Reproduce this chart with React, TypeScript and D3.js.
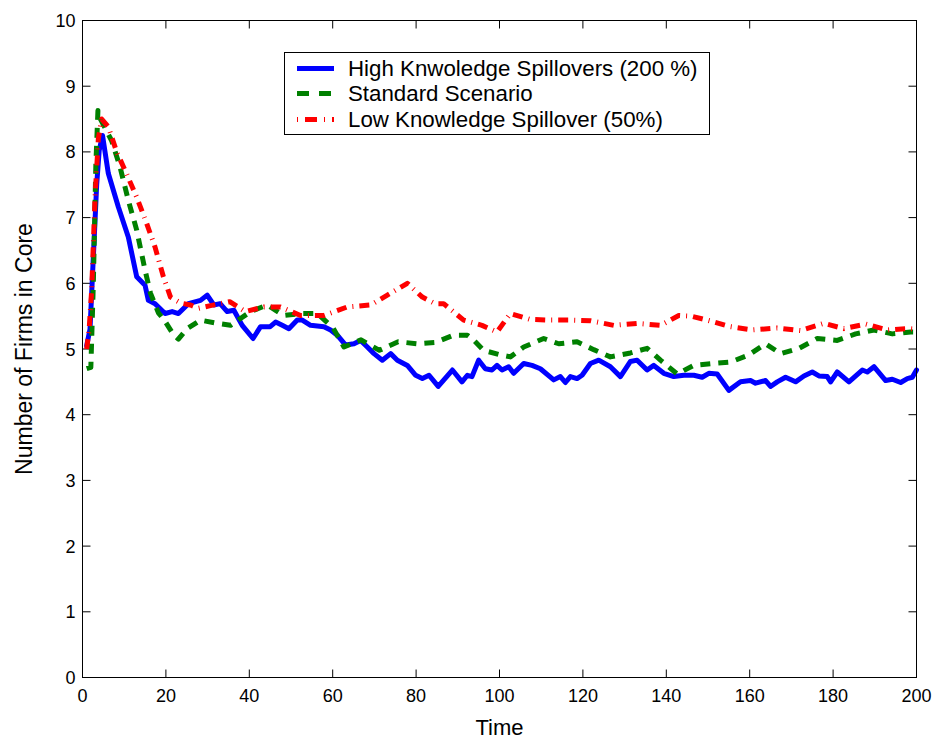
import React from "react";
import * as d3 from "d3";

const X_TICKS = [0, 20, 40, 60, 80, 100, 120, 140, 160, 180, 200];
const Y_TICKS = [0, 1, 2, 3, 4, 5, 6, 7, 8, 9, 10];

const SERIES_NAMES = [
  "High Knwoledge Spillovers (200 %)",
  "Standard Scenario",
  "Low Knowledge Spillover (50%)",
];

const T_HIGH = [1, 1.8, 2.6, 3.4, 4.0, 4.8, 6.2, 8.6, 11, 13, 15, 15.8, 17.4, 19.8, 21.5, 23, 25.4, 28.3, 29.9, 31.5, 33, 34.7, 36.3, 38.3, 40.9, 42.7, 45, 46.3, 47.9, 49.5, 51.5, 52.7, 54.7, 57.9, 59.5, 61.1, 63.1, 65.1, 66.7, 68.3, 69.9, 71.9, 73.9, 75.5, 77.9, 79.9, 81.5, 83.1, 85.3, 88.7, 91, 92.3, 93.4, 95, 96.6, 98.2, 99.4, 100.6, 102.2, 103.4, 105.8, 107.8, 109.8, 113, 114.6, 115.8, 117, 118.6, 119.8, 121.8, 123.8, 126.6, 129, 131.4, 133, 135.4, 137, 139.4, 141.8, 144.2, 146.6, 148.6, 150.2, 152.2, 155, 157.8, 160.2, 161.4, 163.8, 165, 166.6, 168.6, 171, 173, 175, 176.6, 178.6, 179.4, 181, 183.8, 187, 188.2, 189.8, 192.6, 194.2, 196.2, 197.8, 199, 200];
const V_HIGH = [5.05, 5.3, 6.4, 7.5, 8.02, 8.25, 7.67, 7.16, 6.7, 6.1, 5.97, 5.74, 5.69, 5.54, 5.57, 5.54, 5.69, 5.74, 5.82, 5.67, 5.69, 5.57, 5.59, 5.36, 5.16, 5.34, 5.34, 5.41, 5.36, 5.31, 5.44, 5.44, 5.36, 5.34, 5.29, 5.21, 5.06, 5.08, 5.13, 5.03, 4.93, 4.83, 4.93, 4.83, 4.75, 4.6, 4.55, 4.6, 4.43, 4.68, 4.5, 4.6, 4.58, 4.83, 4.7, 4.68, 4.75, 4.68, 4.73, 4.63, 4.78, 4.75, 4.7, 4.53, 4.58, 4.49, 4.58, 4.55, 4.6, 4.78, 4.83, 4.73, 4.58, 4.81, 4.83, 4.68, 4.75, 4.63, 4.58, 4.6, 4.6, 4.57, 4.63, 4.62, 4.37, 4.5, 4.52, 4.48, 4.52, 4.43, 4.5, 4.57, 4.5, 4.59, 4.65, 4.59, 4.58, 4.5, 4.65, 4.5, 4.68, 4.65, 4.73, 4.52, 4.54, 4.49, 4.55, 4.57, 4.68];

const T_STD = [1, 2, 2.6, 3.2, 3.7, 4.3, 7.0, 9.0, 11, 13, 15, 16.3, 18.2, 19.5, 21.9, 23, 25.1, 28.3, 32.3, 35.5, 40.3, 44.3, 48.3, 52.3, 56.3, 60.1, 62.7, 66.8, 71.2, 75.7, 80.3, 84.6, 89, 92.3, 93.9, 96.2, 100.2, 102.6, 105.8, 110.6, 114.2, 118.6, 122.6, 126.6, 131.4, 135.4, 138.6, 142.6, 146.6, 151.4, 155.4, 159.8, 163.8, 167.4, 171.8, 176.2, 181, 185.4, 189.8, 194.2, 198.6, 200];
const V_STD = [4.7, 4.72, 6.0, 7.8, 8.63, 8.5, 8.17, 7.77, 7.26, 6.81, 6.2, 5.85, 5.55, 5.45, 5.21, 5.15, 5.31, 5.44, 5.39, 5.36, 5.57, 5.67, 5.51, 5.54, 5.54, 5.32, 5.03, 5.14, 4.98, 5.11, 5.08, 5.1, 5.21, 5.21, 5.13, 4.98, 4.91, 4.88, 5.03, 5.16, 5.08, 5.11, 4.99, 4.88, 4.94, 5.01, 4.83, 4.62, 4.75, 4.78, 4.8, 4.91, 5.08, 4.93, 5.01, 5.16, 5.13, 5.23, 5.29, 5.23, 5.26, 5.26];

const T_LOW = [1, 1.6, 2.2, 3, 3.8, 4.6, 6.2, 8.2, 10.2, 13, 15.4, 17.4, 19.4, 21.1, 23.5, 25.9, 27.8, 30.7, 35.3, 39.1, 43.5, 47.5, 52.3, 57.9, 63.5, 69.1, 73.1, 77.9, 81.5, 84.6, 86.6, 91.4, 95.8, 99.4, 102.6, 107.4, 111.8, 117, 121.8, 127.4, 133, 138.6, 143, 146, 149.8, 155.4, 160.6, 166.6, 172.2, 177.8, 182.6, 187.8, 193, 198.2, 200];
const V_LOW = [5.0, 5.3, 5.9, 7.3, 8.2, 8.5, 8.38, 8.0, 7.72, 7.31, 6.91, 6.55, 6.1, 5.79, 5.7, 5.67, 5.62, 5.66, 5.72, 5.57, 5.64, 5.64, 5.51, 5.51, 5.64, 5.67, 5.82, 6.0, 5.79, 5.69, 5.69, 5.44, 5.36, 5.26, 5.54, 5.45, 5.44, 5.44, 5.43, 5.36, 5.39, 5.36, 5.51, 5.5, 5.44, 5.34, 5.29, 5.32, 5.28, 5.39, 5.31, 5.38, 5.29, 5.31, 5.3];

const FONT = "'Liberation Sans', Arial, Helvetica, sans-serif";

export default function App() {
  const W = 932;
  const H = 740;
  const x = d3.scaleLinear().domain([0, 200]).range([82.5, 916.5]);
  const y = d3.scaleLinear().domain([0, 10]).range([677.5, 20.5]);
  const line = d3
    .line<[number, number]>()
    .x((d) => x(d[0]))
    .y((d) => y(d[1]));
  const zip = (t: number[], v: number[]) => t.map((ti, i) => [ti, v[i]] as [number, number]);

  const series = [
    { name: SERIES_NAMES[0], data: zip(T_HIGH, V_HIGH), color: "#0000ff", dash: undefined, legendDash: undefined },
    { name: SERIES_NAMES[1], data: zip(T_STD, V_STD), color: "#008000", dash: "10 8", legendDash: "12 10" },
    { name: SERIES_NAMES[2], data: zip(T_LOW, V_LOW), color: "#ff0000", dash: "10 6 1 6", legendDash: "1 7 12 7" },
  ];

  const left = x(0), right = x(200), top = y(10), bottom = y(0);
  const tickLen = 8;

  return (
    <svg width={W} height={H} style={{ position: "absolute", left: 0, top: 0, background: "#fff" }}>
      <rect x={0} y={0} width={W} height={H} fill="#fff" />
      {X_TICKS.map((t) => (
        <g key={"xt" + t}>
          <line x1={x(t)} x2={x(t)} y1={bottom} y2={bottom - tickLen} stroke="#000" strokeWidth={1} />
          <line x1={x(t)} x2={x(t)} y1={top} y2={top + tickLen} stroke="#000" strokeWidth={1} />
          <text x={x(t)} y={701.5} textAnchor="middle" fontFamily={FONT} fontSize={18} fill="#000">
            {t}
          </text>
        </g>
      ))}
      {Y_TICKS.map((t) => (
        <g key={"yt" + t}>
          <line x1={left} x2={left + tickLen} y1={y(t)} y2={y(t)} stroke="#000" strokeWidth={1} />
          <line x1={right} x2={right - tickLen} y1={y(t)} y2={y(t)} stroke="#000" strokeWidth={1} />
          <text x={75.5} y={y(t) + 6.5} textAnchor="end" fontFamily={FONT} fontSize={18} fill="#000">
            {t}
          </text>
        </g>
      ))}
      {series.map((s) => (
        <path
          key={s.name}
          d={line(s.data) || ""}
          fill="none"
          stroke={s.color}
          strokeWidth={5}
          strokeDasharray={s.dash}
          strokeLinejoin="round"
          strokeLinecap={s.dash ? "butt" : "round"}
        />
      ))}
      <rect x={left} y={top} width={right - left} height={bottom - top} fill="none" stroke="#000" strokeWidth={1} />
      <text x={(left + right) / 2} y={735} textAnchor="middle" fontFamily={FONT} fontSize={22} fill="#000">
        Time
      </text>
      <text
        transform={`translate(31.5, ${(top + bottom) / 2}) rotate(-90)`}
        textAnchor="middle"
        fontFamily={FONT}
        fontSize={23}
        fill="#000"
      >
        Number of Firms in Core
      </text>
      <rect x={284.5} y={52.5} width={425} height={82} fill="#fff" stroke="#000" strokeWidth={1} />
      {series.map((s, i) => {
        const ly = [68.5, 93.5, 119.5][i];
        return (
          <g key={"lg" + i}>
            <line
              x1={297}
              x2={334}
              y1={ly}
              y2={ly}
              stroke={s.color}
              strokeWidth={5}
              strokeDasharray={s.legendDash}
            />
            <text x={348} y={ly + 7.5} fontFamily={FONT} fontSize={22.3} fill="#000">
              {s.name}
            </text>
          </g>
        );
      })}
    </svg>
  );
}
